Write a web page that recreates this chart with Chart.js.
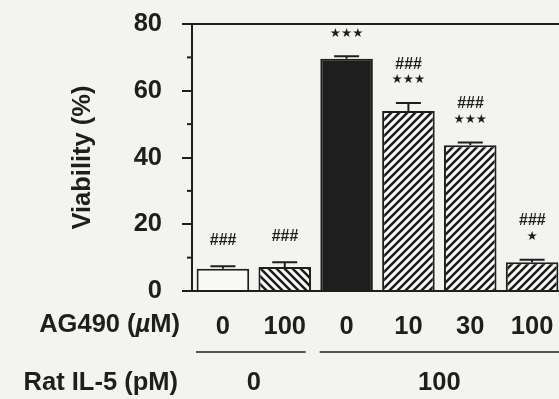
<!DOCTYPE html>
<html>
<head>
<meta charset="utf-8">
<script src="https://cdn.jsdelivr.net/npm/chart.js@4.4.0/dist/chart.umd.min.js"></script>
<style>
  html, body { margin: 0; padding: 0; background: #f3f3f0; overflow: hidden; }
  canvas { display: block; }
</style>
</head>
<body>
<canvas id="myChart" width="570" height="399"></canvas>
<script>
// data
const ag490 = ['0', '100', '0', '10', '30', '100']
const viability = [6.7, 7.2, 69.6, 53.9, 43.7, 8.6]
const sem = [0.7, 1.4, 0.7, 2.4, 0.8, 0.8]
const hashMarks = ['###', '###', '', '###', '###', '###']
const starMarks = ['', '', '***', '***', '***', '*']
const il5Labels = ['0', '100']
const il5From = [0, 2]
const il5To = [1, 5]
const yTicks = [0, 20, 40, 60, 80]

const ink = '#1e1e1e'
const paper = '#f9f9f7'

// hatch patterns
function hatch(dir) {
    const c = document.createElement('canvas')
    c.width = 8; c.height = 8
    const g = c.getContext('2d')
    g.fillStyle = paper
    g.fillRect(0, 0, 8, 8)
    g.strokeStyle = ink
    g.lineWidth = 2.6
    g.beginPath()
    if (dir === '/') {
        g.moveTo(-4, 4); g.lineTo(4, -4)
        g.moveTo(0, 8); g.lineTo(8, 0)
        g.moveTo(4, 12); g.lineTo(12, 4)
    } else {
        g.moveTo(-4, 4); g.lineTo(4, 12)
        g.moveTo(0, 0); g.lineTo(8, 8)
        g.moveTo(4, -4); g.lineTo(12, 4)
    }
    g.stroke()
    return document.getElementById('myChart').getContext('2d').createPattern(c, 'repeat')
}
const fwd = hatch('/')
const back = hatch('\\')
const fills = [paper, back, ink, fwd, fwd, fwd]

const fsize = 25.5
const boldFont = 'bold ' + fsize + 'px "Liberation Sans", Arial, sans-serif'

const extras = {
    id: 'extras',
    afterDatasetsDraw(chart) {
        const ctx = chart.ctx
        const y = chart.scales.y
        const bars = chart.getDatasetMeta(0).data
        ctx.save()
        ctx.strokeStyle = ink
        ctx.fillStyle = ink
        ctx.lineWidth = 2
        bars.forEach(function (b, i) {
            const top = y.getPixelForValue(viability[i])
            const cap = y.getPixelForValue(viability[i] + sem[i])
            ctx.beginPath()
            ctx.moveTo(b.x, top); ctx.lineTo(b.x, cap)
            ctx.moveTo(b.x - 12.5, cap); ctx.lineTo(b.x + 12.5, cap)
            ctx.stroke()
            // significance marks
            ctx.textAlign = 'center'
            ctx.textBaseline = 'middle'
            let ly = cap - 23
            if (starMarks[i]) {
                ctx.font = '12.5px "DejaVu Sans"'
                ctx.fillText(starMarks[i].replace(/\*/g, '\u2605'), b.x, ly)
                ly -= 16
            } else {
                ly -= 3
            }
            if (hashMarks[i]) {
                ctx.font = 'italic bold 16px "Liberation Sans", Arial'
                ctx.fillText(hashMarks[i], b.x, ly)
            }
        })
        ctx.restore()
    },
    afterDraw(chart) {
        const ctx = chart.ctx
        const area = chart.chartArea
        const y = chart.scales.y
        const x = chart.scales.x
        ctx.save()
        ctx.strokeStyle = ink
        ctx.fillStyle = ink
        ctx.lineWidth = 2
        // top frame line
        ctx.beginPath()
        ctx.moveTo(area.left, area.top); ctx.lineTo(area.right, area.top)
        ctx.stroke()
        // minor ticks
        for (let v = 10; v < 80; v += 20) {
            const py = y.getPixelForValue(v)
            ctx.beginPath()
            ctx.moveTo(area.left - 5, py); ctx.lineTo(area.left, py)
            ctx.stroke()
        }
        // row labels
        ctx.font = boldFont
        ctx.textBaseline = 'middle'
        ctx.textAlign = 'left'
        const rowY = 325
        const pre = 'AG490 (', mu = '\u00b5', post = 'M)'
        const w1 = ctx.measureText(pre).width
        const w3 = ctx.measureText(post).width
        ctx.font = 'italic ' + boldFont
        const w2 = ctx.measureText(mu).width
        let sx = 180 - w1 - w2 - w3
        ctx.font = boldFont
        ctx.fillText(pre, sx, rowY)
        ctx.font = 'italic ' + boldFont
        ctx.fillText(mu, sx + w1, rowY)
        ctx.font = boldFont
        ctx.fillText(post, sx + w1 + w2, rowY)
        ctx.textAlign = 'right'
        ctx.fillText('Rat IL-5 (pM)', 178, 383)
        // group lines and labels
        const half = (x.getPixelForValue(1) - x.getPixelForValue(0)) / 2
        ctx.lineWidth = 1.5
        ctx.textAlign = 'center'
        il5Labels.forEach(function (lab, k) {
            const a = x.getPixelForValue(il5From[k])
            const b = x.getPixelForValue(il5To[k])
            const end = k === il5Labels.length - 1 ? area.right : b + half - 10
            ctx.beginPath()
            ctx.moveTo(a - half + 4, 352); ctx.lineTo(end, 352)
            ctx.stroke()
            ctx.fillText(lab, (a + b) / 2, 383)
        })
        ctx.restore()
    }
}

const ctx = document.getElementById('myChart')
let myChart = new Chart(ctx, {
    type: 'bar',
    data: {
        labels: ag490,
        datasets: [{
            data: viability,
            backgroundColor: fills,
            borderColor: ink,
            borderWidth: 2,
            barPercentage: 0.85,
            categoryPercentage: 1
        }]
    },
    plugins: [extras],
    options: {
        responsive: false,
        animation: false,
        layout: { padding: { top: 24, right: 7, left: 0, bottom: 0 } },
        plugins: { legend: { display: false }, tooltip: { enabled: false } },
        scales: {
            x: {
                grid: { display: false },
                border: { display: true, color: ink, width: 2 },
                ticks: { color: ink, font: { family: 'Liberation Sans', size: fsize, weight: 'bold' }, padding: 13, maxRotation: 0, autoSkip: false },
                afterFit: function (s) { s.height = 108 }
            },
            y: {
                min: 0,
                max: 80,
                ticks: {
                    stepSize: 20,
                    color: ink,
                    padding: 20,
                    font: { family: 'Liberation Sans', size: fsize, weight: 'bold' },
                    callback: function (v) { return yTicks.includes(v) ? v : '' }
                },
                grid: { drawOnChartArea: false, drawTicks: true, tickLength: 10, color: ink, lineWidth: 2 },
                border: { display: true, color: ink, width: 2 },
                title: {
                    display: true,
                    text: 'Viability (%)',
                    color: ink,
                    font: { family: 'Liberation Sans', size: fsize, weight: 'bold' },
                    padding: { top: 68 }
                },
                afterFit: function (s) {
                    s.width = 192
                    s.paddingTop = 0
                    s.paddingBottom = 0
                }
            }
        }
    }
})
</script>
</body>
</html>
